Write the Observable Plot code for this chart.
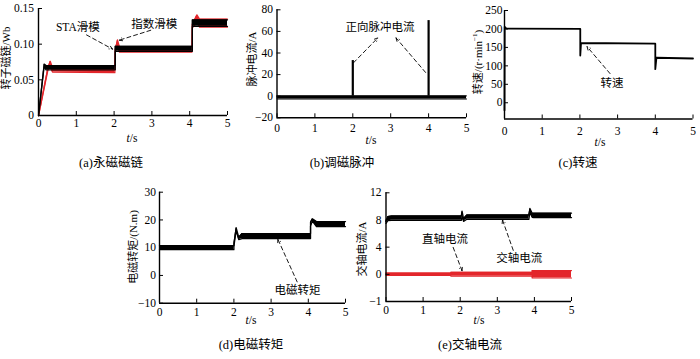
<!DOCTYPE html>
<html><head><meta charset="utf-8">
<script src="https://cdn.jsdelivr.net/npm/d3@7"></script>
<script src="https://cdn.jsdelivr.net/npm/@observablehq/plot@0.6"></script>
<style>
body{margin:0;background:#fff;}
#root{position:relative;width:700px;height:359px;overflow:hidden;font-family:"Liberation Serif","Times New Roman","DejaVu Serif","Noto Sans CJK SC",serif;color:#000;background:#fff;}
.panel{position:absolute;}
.ylab{position:absolute;white-space:nowrap;font-size:11px;line-height:1;transform:translate(-50%,-50%) rotate(-90deg);}
.xlab{position:absolute;font-size:11.5px;line-height:1;transform:translate(-50%,-50%);white-space:nowrap}
.cap{position:absolute;font-size:12.5px;line-height:1;transform:translate(-50%,-50%);white-space:nowrap}
sup{font-size:7px;}
svg text{font-family:"Liberation Serif","Times New Roman","Noto Sans CJK SC",serif;}
</style></head><body><div id="root"></div>
<script>
// ---------- shared ----------
const xTicks = [0, 1, 2, 3, 4, 5];
const xTickLabels = ["0", "1", "2", "3", "4", "5"];
const RED = "#e3262b";
const SERIF = '"Liberation Serif","Times New Roman","Noto Sans CJK SC",serif';

// ---------- (a) 永磁磁链 ----------
const aYTicks = [0, 0.05, 0.10, 0.15];
const aYTickLabels = ["0", "0.05", "0.10", "0.15"];
const aBlackT  = [0, 0.15, 0.2, 2.03, 2.03, 4.07, 4.07, 5];
const aBlackLo = [0, 0.069, 0.064, 0.064, 0.090, 0.090, 0.125, 0.125];
const aBlackHi = [0, 0.072, 0.070, 0.070, 0.097, 0.097, 0.134, 0.134];
const aRedT  = [0, 0.25, 0.31, 0.37, 2.02, 2.03, 2.09, 2.14, 4.06, 4.07, 4.19, 4.26, 5];
const aRedLo = [0, 0.064, 0.068, 0.061, 0.060, 0.089, 0.098, 0.089, 0.089, 0.123, 0.130, 0.124, 0.124];
const aRedHi = [0, 0.067, 0.076, 0.067, 0.067, 0.092, 0.106, 0.096, 0.096, 0.128, 0.141, 0.135, 0.135];
const aNoteText = ["STA滑模", "指数滑模"];
const aNoteX = [1.04, 3.06];
const aNoteY = [0.124, 0.1276];
const aArrowX1 = [1.27, 2.97], aArrowY1 = [0.113, 0.1195];
const aArrowX2 = [1.96, 2.13], aArrowY2 = [0.093, 0.1055];

// ---------- (b) 调磁脉冲 ----------
const bYTicks = [-20, 0, 20, 40, 60, 80];
const bYTickLabels = ["−20", "0", "20", "40", "60", "80"];
const bBaseT = [0, 5];
const bBaseLo = [-2.6, -2.6];
const bBaseHi = [0.3, 0.3];
const bPulseT = [2.0, 4.0];
const bPulseTop = [33, 70];
const bNoteText = ["正向脉冲电流"];
const bNoteX = [2.72], bNoteY = [63.6];
const bArrowX1 = [2.02, 3.92], bArrowY1 = [31, 22];
const bArrowX2 = [2.66, 3.14], bArrowY2 = [54, 54];

// ---------- (c) 转速 ----------
const cYTicks = [0, 50, 100, 150, 200, 250];
const cYTickLabels = ["0", "50", "100", "150", "200", "250"];
const cT = [0, 0.005, 0.05, 2.01, 2.01, 2.03, 4.0, 4.0, 4.03, 5];
const cV = [-20, 206, 201, 200, 128, 162, 160, 91, 122, 120];
const cNoteText = ["转速"];
const cNoteX = [2.85], cNoteY = [52];
const cArrowX1 = [2.80], cArrowY1 = [79];
const cArrowX2 = [2.19], cArrowY2 = [152];

// ---------- (d) 电磁转矩 ----------
const dYTicks = [-10, 0, 10, 20, 30];
const dYTickLabels = ["−10", "0", "10", "20", "30"];
const dT  = [0, 2.0, 2.0, 2.06, 2.13, 2.22, 4.06, 4.06, 4.11, 4.22, 5];
const dLo = [9.3, 9.3, 10.5, 16.2, 12.9, 13.3, 13.3, 17.8, 19.6, 17.6, 17.6];
const dHi = [10.7, 10.7, 11.5, 17.2, 13.8, 15.1, 15.1, 19.2, 20.4, 19.4, 19.4];
const dNoteText = ["电磁转矩"];
const dNoteX = [3.71], dNoteY = [-5.5];
const dArrowX1 = [3.70], dArrowY1 = [-2.3];
const dArrowX2 = [3.18], dArrowY2 = [13.1];

// ---------- (e) 交轴电流 ----------
const eYTicks = [-4, 0, 4, 8, 12];
const eYTickLabels = ["−1", "0", "4", "8", "12"];
const eBlackT  = [0, 0.05, 0.15, 2.03, 2.05, 2.09, 2.18, 3.85, 3.88, 3.94, 3.98, 5];
const eBlackLo = [7.5, 7.9, 7.95, 7.95, 8.6, 7.8, 8.1, 8.1, 9.1, 8.4, 8.35, 8.35];
const eBlackHi = [7.8, 8.5, 8.6, 8.6, 9.3, 8.2, 8.75, 8.75, 9.7, 9.0, 9.0, 9.0];
const eRedT  = [0, 1.75, 1.75, 3.94, 3.94, 5];
const eRedLo = [-0.18, -0.18, -0.28, -0.28, -0.55, -0.55];
const eRedHi = [0.2, 0.2, 0.3, 0.3, 0.55, 0.55];
const eNoteText = ["直轴电流", "交轴电流"];
const eNoteX = [1.59, 3.59], eNoteY = [5.15, 2.35];
const eArrowX1 = [1.81, 3.43], eArrowY1 = [3.97, 3.53];
const eArrowX2 = [2.05, 3.14], eArrowY2 = [0.5, 8.0];

// ---------- helpers ----------
function band(T, LO, HI, color, sw) {
  const rows = T.map((t, i) => ({t, lo: LO[i], hi: HI[i]}));
  return [
    Plot.areaY(rows, {x: "t", y1: "lo", y2: "hi", fill: color}),
    Plot.line(rows, {x: "t", y: "lo", stroke: color, strokeWidth: sw}),
    Plot.line(rows, {x: "t", y: "hi", stroke: color, strokeWidth: sw})
  ];
}
function notes(text, X, Y, x1, y1, x2, y2) {
  const tr = text.map((s, i) => ({s, x: X[i], y: Y[i]}));
  const ar = x1.map((v, i) => ({x1: v, y1: y1[i], x2: x2[i], y2: y2[i]}));
  return [
    Plot.arrow(ar, {x1: "x1", y1: "y1", x2: "x2", y2: "y2", stroke: "#000", strokeWidth: 0.9,
      strokeDasharray: "4,3", headLength: 6, headAngle: 50}),
    Plot.text(tr, {x: "x", y: "y", text: "s", fontSize: 11.5, fontFamily: SERIF, fill: "#000"})
  ];
}
function panel(cfg) {
  const yMap = new Map(cfg.yTicks.map((d, i) => [d, cfg.yLabels[i]]));
  const xMap = new Map(xTicks.map((d, i) => [d, xTickLabels[i]]));
  const fig = Plot.plot({
    width: cfg.w, height: cfg.h,
    marginLeft: cfg.ml, marginRight: cfg.mr, marginTop: cfg.mt, marginBottom: cfg.mb,
    style: {fontFamily: SERIF, fontSize: "11.5px", color: "#000",
      background: "transparent", overflow: "visible"},
    x: {domain: [0, 5]},
    y: {domain: cfg.yDomain},
    marks: [
      ...cfg.marks,
      Plot.ruleX([0], {stroke: "#000", strokeWidth: 1.4}),
      Plot.ruleY([cfg.yDomain[0]], {stroke: "#000", strokeWidth: 1.4}),
      Plot.axisX({ticks: xTicks, tickFormat: d => xMap.get(d), tickSize: -4,
        tickPadding: cfg.xpad, label: null, fontSize: 11.5}),
      Plot.axisY({ticks: cfg.yTicks, tickFormat: d => yMap.get(d), tickSize: -4,
        tickPadding: cfg.ypad, label: null, fontSize: 11.5})
    ]
  });
  const div = document.createElement("div");
  div.className = "panel";
  div.style.left = cfg.left + "px";
  div.style.top = cfg.top + "px";
  div.appendChild(fig);
  root.appendChild(div);
}
function label(cls, html, x, y) {
  const d = document.createElement("div");
  d.className = cls;
  d.innerHTML = html;
  d.style.left = x + "px";
  d.style.top = y + "px";
  root.appendChild(d);
}
const root = document.getElementById("root");

// (a)
panel({left: 0, top: 0, w: 232, h: 150, ml: 38, mr: 5, mt: 8, mb: 35,
  yDomain: [0, 0.15], yTicks: aYTicks, yLabels: aYTickLabels, xpad: 7.5, ypad: 8.4,
  marks: [
    ...band(aRedT, aRedLo, aRedHi, RED, 1.3),
    ...band(aBlackT, aBlackLo, aBlackHi, "#000", 1.3),
    ...notes(aNoteText, aNoteX, aNoteY, aArrowX1, aArrowY1, aArrowX2, aArrowY2)
  ]});
// (b)
panel({left: 235, top: 0, w: 235, h: 150, ml: 41.5, mr: 4, mt: 9.3, mb: 32.7,
  yDomain: [-20, 80], yTicks: bYTicks, yLabels: bYTickLabels, xpad: 10.5, ypad: 8,
  marks: [
    ...band(bBaseT, bBaseLo, bBaseHi, "#000", 1),
    Plot.ruleX(bPulseT.map((t, i) => ({t, top: bPulseTop[i]})), {x: "t", y1: 0, y2: "top", stroke: "#000", strokeWidth: 2.2}),
    ...notes(bNoteText, bNoteX, bNoteY, bArrowX1, bArrowY1, bArrowX2, bArrowY2)
  ]});
// (c)
panel({left: 465, top: 0, w: 235, h: 150, ml: 39, mr: 7.5, mt: 10, mb: 31.5,
  yDomain: [-44, 250], yTicks: cYTicks, yLabels: cYTickLabels, xpad: 11.5, ypad: 6,
  marks: [
    Plot.line(cT.map((t, i) => ({t, v: cV[i]})), {x: "t", y: "v", stroke: "#000", strokeWidth: 1.8}),
    ...notes(cNoteText, cNoteX, cNoteY, cArrowX1, cArrowY1, cArrowX2, cArrowY2)
  ]});
// (d)
panel({left: 115, top: 175, w: 235, h: 184, ml: 44, mr: 5, mt: 16.7, mb: 56.3,
  yDomain: [-10, 30], yTicks: dYTicks, yLabels: dYTickLabels, xpad: 8.8, ypad: 7.4,
  marks: [
    ...band(dT, dLo, dHi, "#000", 1.3),
    ...notes(dNoteText, dNoteX, dNoteY, dArrowX1, dArrowY1, dArrowX2, dArrowY2)
  ]});
// (e)
panel({left: 340, top: 175, w: 240, h: 184, ml: 45.5, mr: 9, mt: 17.3, mb: 58,
  yDomain: [-4, 12], yTicks: eYTicks, yLabels: eYTickLabels, xpad: 8.8, ypad: 8.5,
  marks: [
    ...band(eRedT, eRedLo, eRedHi, RED, 1.1),
    ...band(eBlackT, eBlackLo, eBlackHi, "#000", 1.3),
    ...notes(eNoteText, eNoteX, eNoteY, eArrowX1, eArrowY1, eArrowX2, eArrowY2)
  ]});

// axis titles and captions
label("ylab", "转子磁链/Wb", 6, 58);
label("ylab", "脉冲电流/A", 252, 59);
label("ylab", "转速/(r·min<sup>−1</sup>)", 478, 62);
label("ylab", "电磁转矩/(N.m)", 133, 247);
label("ylab", "交轴电流/A", 362, 249);
label("xlab", "<i>t</i>/s", 132, 139);
label("xlab", "<i>t</i>/s", 371, 141);
label("xlab", "<i>t</i>/s", 600, 143);
label("xlab", "<i>t</i>/s", 251, 321);
label("xlab", "<i>t</i>/s", 479, 321);
label("cap", "(a)永磁磁链", 111, 163);
label("cap", "(b)调磁脉冲", 342, 163);
label("cap", "(c)转速", 578, 163);
label("cap", "(d)电磁转矩", 251, 345);
label("cap", "(e)交轴电流", 470, 345);
</script>
</body></html>
